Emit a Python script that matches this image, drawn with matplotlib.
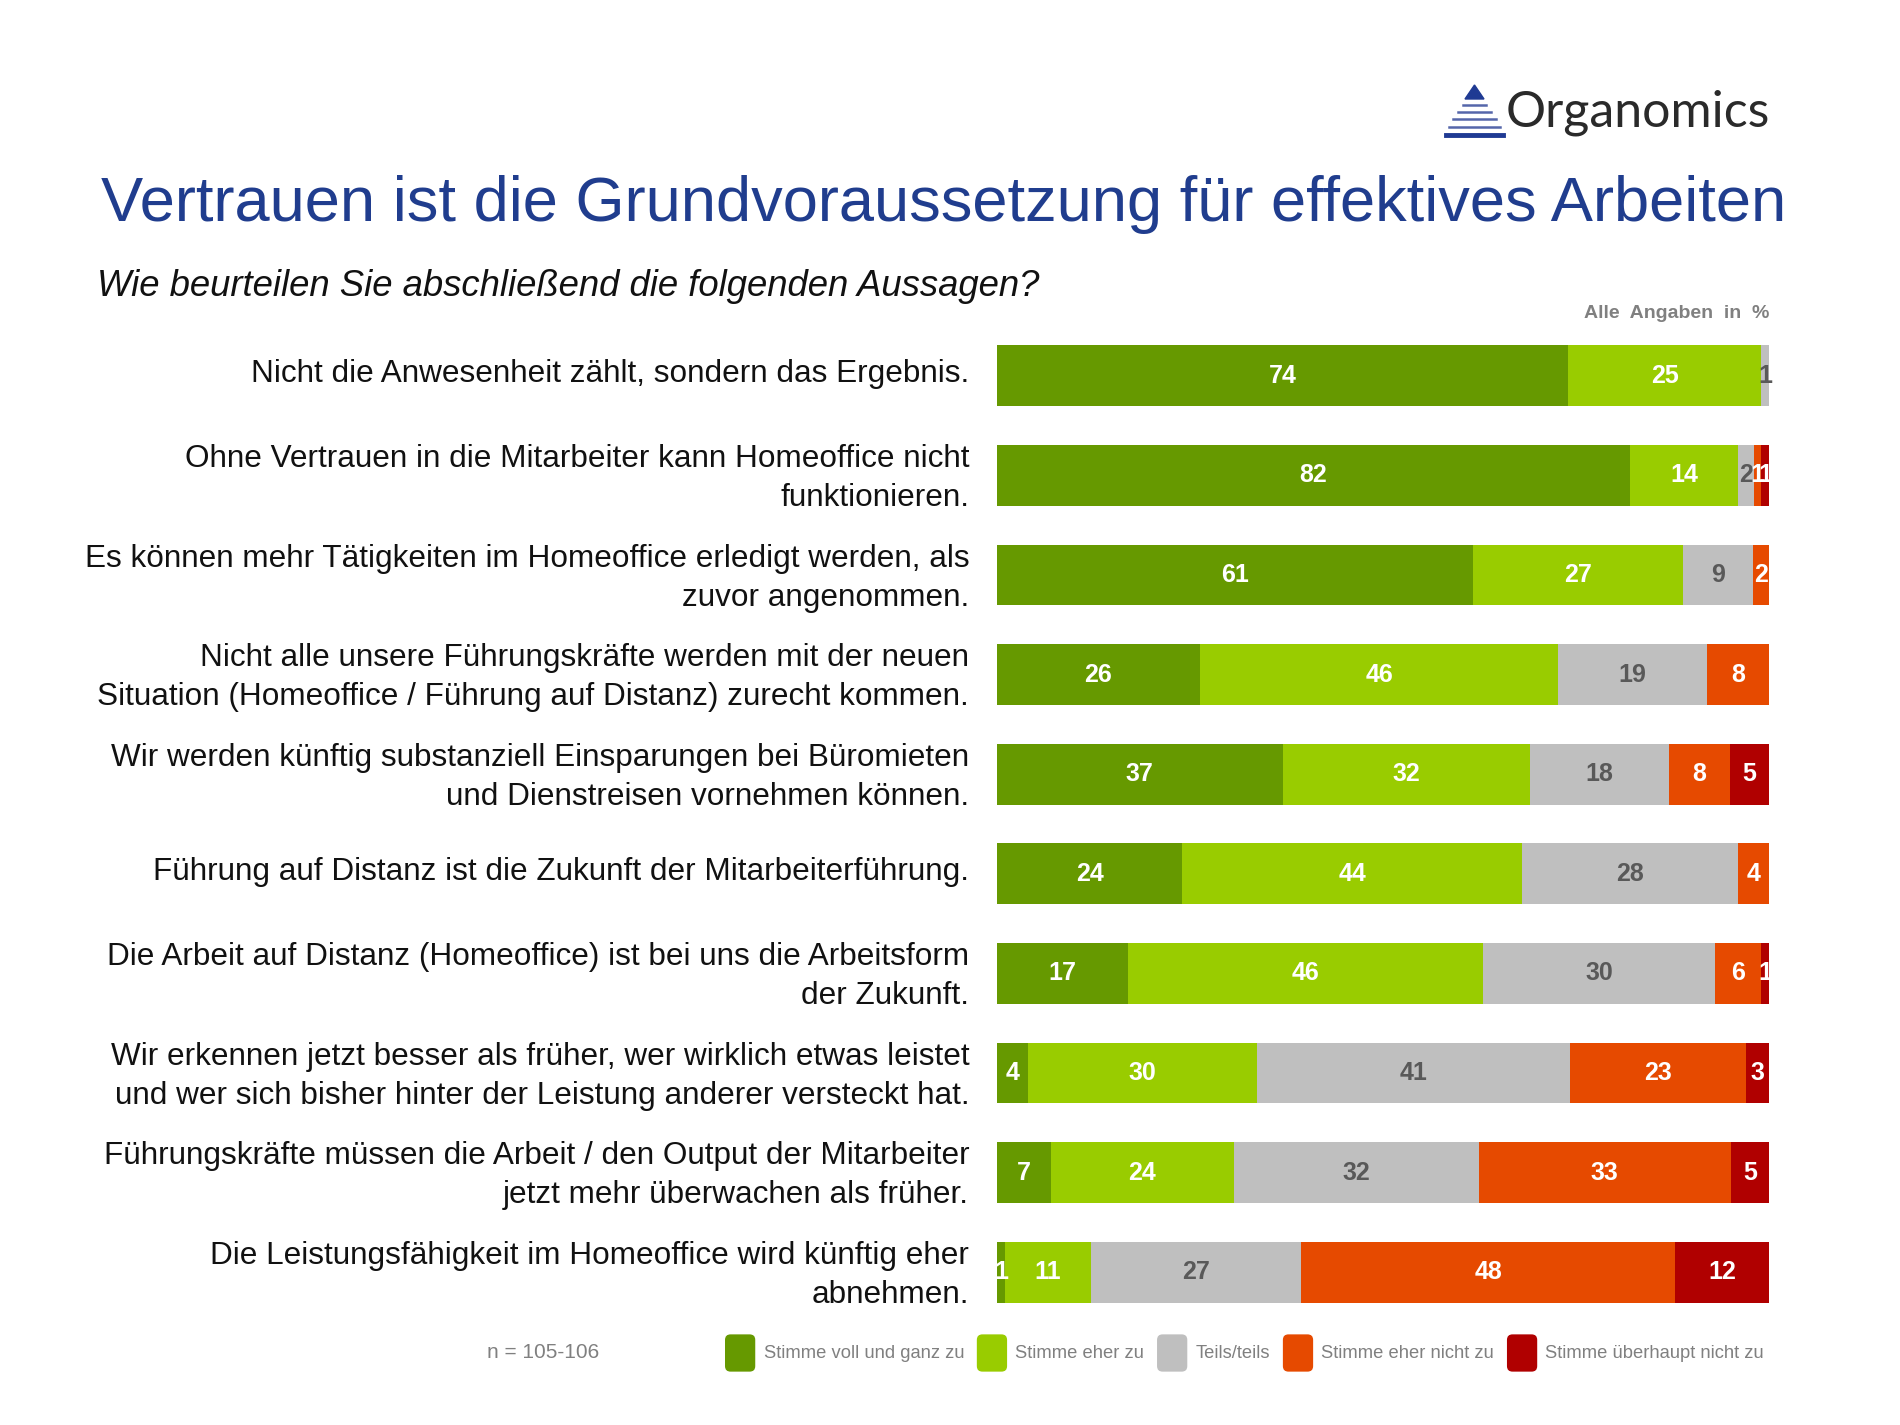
import matplotlib
matplotlib.use("Agg")
import matplotlib.pyplot as plt
import numpy as np
from matplotlib.patches import Patch, FancyBboxPatch, Polygon
from matplotlib.legend_handler import HandlerPatch
from matplotlib.lines import Line2D
from matplotlib.transforms import ScaledTranslation

plt.rcParams['font.family'] = ['Liberation Sans', 'DejaVu Sans']

categories = [
    "Nicht die Anwesenheit zählt, sondern das Ergebnis.",
    "Ohne Vertrauen in die Mitarbeiter kann Homeoffice nicht\nfunktionieren.",
    "Es können mehr Tätigkeiten im Homeoffice erledigt werden, als\nzuvor angenommen.",
    "Nicht alle unsere Führungskräfte werden mit der neuen\nSituation (Homeoffice / Führung auf Distanz) zurecht kommen.",
    "Wir werden künftig substanziell Einsparungen bei Büromieten\nund Dienstreisen vornehmen können.",
    "Führung auf Distanz ist die Zukunft der Mitarbeiterführung.",
    "Die Arbeit auf Distanz (Homeoffice) ist bei uns die Arbeitsform\nder Zukunft.",
    "Wir erkennen jetzt besser als früher, wer wirklich etwas leistet\nund wer sich bisher hinter der Leistung anderer versteckt hat.",
    "Führungskräfte müssen die Arbeit / den Output der Mitarbeiter\njetzt mehr überwachen als früher.",
    "Die Leistungsfähigkeit im Homeoffice wird künftig eher\nabnehmen.",
]
series_names = ["Stimme voll und ganz zu", "Stimme eher zu", "Teils/teils",
                "Stimme eher nicht zu", "Stimme überhaupt nicht zu"]
voll = [74, 82, 61, 26, 37, 24, 17, 4, 7, 1]
eher = [25, 14, 27, 46, 32, 44, 46, 30, 24, 11]
teils = [1, 2, 9, 19, 18, 28, 30, 41, 32, 27]
eher_nicht = [0, 1, 2, 8, 8, 4, 6, 23, 33, 48]
gar_nicht = [0, 1, 0, 0, 5, 0, 1, 3, 5, 12]

colors = ['#669900', '#99CC00', '#BFBFBF', '#E64A00', '#B00000']
label_colors = ['white', 'white', '#595959', 'white', 'white']

data = np.array([voll, eher, teils, eher_nicht, gar_nicht], dtype=float)
totals = data.sum(axis=0)
norm = data / totals * 100

fig = plt.figure(figsize=(19, 14.25), dpi=100)
ax = fig.add_axes([997/1900, 1-1322/1425, (1769-997)/1900, (1322-326)/1425])

y = np.arange(len(categories))
left = np.zeros(len(categories))
for i in range(5):
    ax.barh(y, norm[i], left=left, height=0.61, color=colors[i], linewidth=0)
    for j in range(len(categories)):
        v = data[i, j]
        if v > 0:
            ax.text(left[j] + norm[i, j] / 2, y[j], f"{int(v)}", ha='center', va='center',
                    color=label_colors[i], fontsize=18, fontweight='bold')
    left += norm[i]

ax.set_xlim(0, 100)
ax.set_ylim(len(categories) - 0.5, -0.5)
ax.set_yticks(y)
ax.set_yticklabels(categories, fontsize=22.7, color='#111111', linespacing=1.4)
ax.tick_params(axis='y', length=0, pad=20)
shift = ScaledTranslation(0, 5/100, fig.dpi_scale_trans)
for lab in ax.get_yticklabels():
    lab.set_transform(lab.get_transform() + shift)
ax.set_xticks([])
for s in ax.spines.values():
    s.set_visible(False)

# Title & subtitle
fig.text(101/1900, 1-204/1425, "Vertrauen ist die Grundvoraussetzung für effektives Arbeiten",
         fontsize=45.5, color='#203D8E', va='center', ha='left')
fig.text(97/1900, 1-287/1425, "Wie beurteilen Sie abschließend die folgenden Aussagen?",
         fontsize=26.3, style='italic', color='#111111', va='center', ha='left')
fig.text(1769/1900, 1-313/1425, "Alle  Angaben  in  %", fontsize=14, fontweight='bold',
         color='#808080', va='center', ha='right')

# Logo
fig.text(1506/1900, 1-113/1425, "Organomics", fontsize=36, family=['Lato', 'DejaVu Sans'],
         fontweight='normal', color='#2a2a2a', va='center', ha='left')
tri = Polygon([(1465/1900, 1-99/1425), (1484/1900, 1-99/1425), (1474.5/1900, 1-85/1425)],
              closed=True, transform=fig.transFigure, color='#1F3A93')
fig.patches.append(tri)
stripes = [(105, 1463, 1486, 1.8, '#5566AA'), (112, 1458, 1491, 1.8, '#5566AA'),
           (119, 1453, 1496, 1.8, '#5566AA'), (127, 1449, 1500, 1.8, '#5566AA'),
           (135, 1446, 1503, 3.5, '#1F3A93')]
for yy, x0, x1, lw, c in stripes:
    fig.add_artist(Line2D([x0/1900, x1/1900], [1-yy/1425, 1-yy/1425], lw=lw, color=c,
                          transform=fig.transFigure))

# Legend
class RoundHandler(HandlerPatch):
    def create_artists(self, legend, orig_handle, xdescent, ydescent, width, height, fontsize, trans):
        p = FancyBboxPatch((-xdescent, -ydescent), width, height,
                           boxstyle="round,pad=0,rounding_size=4",
                           facecolor=orig_handle.get_facecolor(), edgecolor='none', transform=trans)
        return [p]

handles = [Patch(facecolor=c, label=n) for c, n in zip(colors, series_names)]
fig.legend(handles=handles, loc='center left', bbox_to_anchor=(725/1900, 1-1353/1425),
           ncol=5, frameon=False, fontsize=13.2, handlelength=1.65, handleheight=2.75,
           handletextpad=0.45, columnspacing=0.7, borderpad=0, borderaxespad=0,
           labelcolor='#808080', handler_map={Patch: RoundHandler()})
fig.text(487/1900, 1-1353/1425, "n = 105-106", fontsize=15, color='#808080', va='center', ha='left')

fig.savefig("out.png", dpi=100, facecolor='white')
